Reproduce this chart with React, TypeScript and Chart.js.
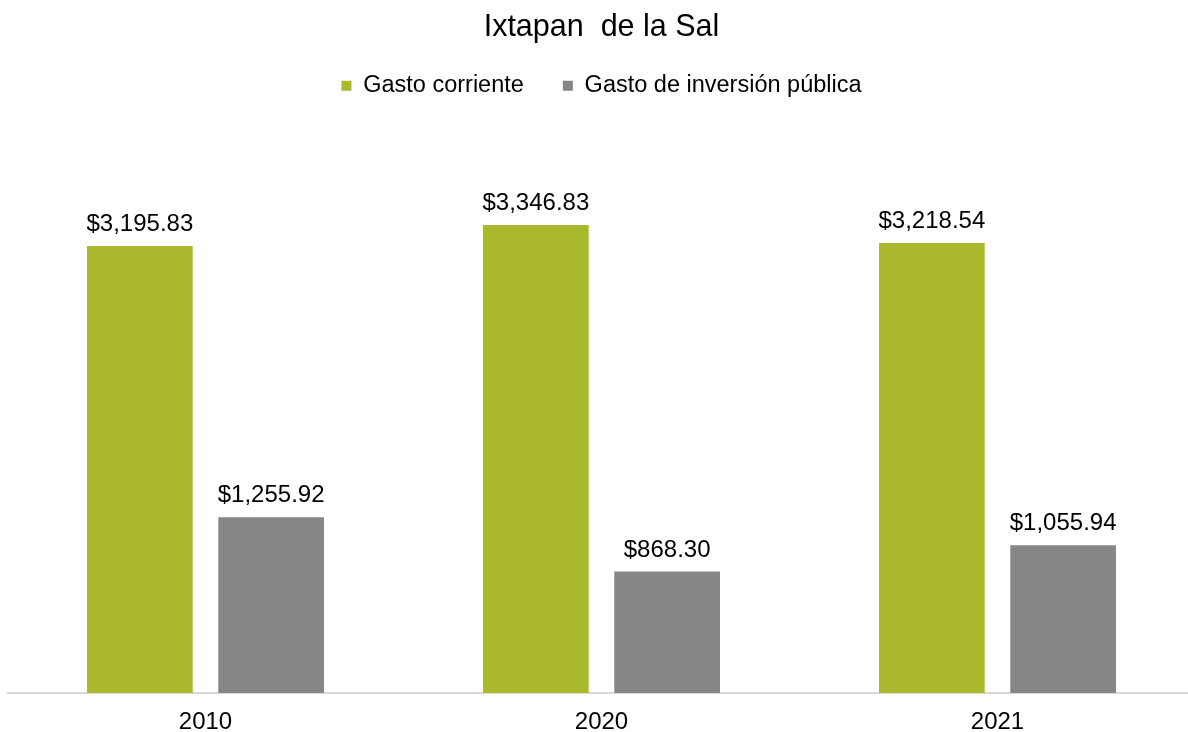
import React, { useEffect, useRef } from "react";
import { Chart, registerables } from "chart.js";

Chart.register(...registerables);

const title = "Ixtapan  de la Sal";
const categories = ["2010", "2020", "2021"];
const seriesNames = ["Gasto corriente", "Gasto de inversión pública"];
const gastoCorriente = [3195.83, 3346.83, 3218.54];
const gastoInversion = [1255.92, 868.3, 1055.94];
const colors = ["#A9B92B", "#868686"];

const FONT = "'Liberation Sans', Arial, sans-serif";

const fmt = (v: number) =>
  "$" + v.toLocaleString("en-US", { minimumFractionDigits: 2, maximumFractionDigits: 2 });

const labelPlugin = {
  id: "barLabels",
  afterDatasetsDraw(chart: any) {
    const ctx = chart.ctx;
    ctx.save();
    ctx.font = `24px ${FONT}`;
    ctx.fillStyle = "#000";
    ctx.textAlign = "center";
    ctx.textBaseline = "alphabetic";
    chart.data.datasets.forEach((ds: any, i: number) => {
      const meta = chart.getDatasetMeta(i);
      meta.data.forEach((el: any, j: number) => {
        ctx.fillText(fmt(ds.data[j]), el.x, el.y - 15);
      });
    });
    ctx.restore();
  },
};

// Adds extra space between the legend and the plot area
const legendSpacer = {
  id: "legendSpacer",
  afterInit(chart: any) {
    const legend = chart.legend;
    if (!legend) return;
    const origFit = legend.fit;
    legend.fit = function () {
      origFit.call(this);
      this.height += 26;
    };
  },
};

export default function App() {
  const ref = useRef<HTMLCanvasElement>(null);
  useEffect(() => {
    document.body.style.margin = "0";
    const chart = new Chart(ref.current!, {
      type: "bar",
      data: {
        labels: categories,
        datasets: [
          { label: seriesNames[0], data: gastoCorriente, backgroundColor: colors[0] },
          { label: seriesNames[1], data: gastoInversion, backgroundColor: colors[1] },
        ],
      },
      options: {
        animation: false,
        responsive: true,
        maintainAspectRatio: false,
        datasets: { bar: { categoryPercentage: 0.663, barPercentage: 0.805 } },
        layout: { padding: { left: 7.5, right: 0.5, top: 0, bottom: -19 } },
        plugins: {
          tooltip: { enabled: false },
          title: {
            display: true,
            text: title,
            color: "#000",
            font: { family: FONT, size: 30.5, weight: "normal" },
            padding: { top: 9, bottom: -10.5 },
          },
          legend: {
            display: true,
            position: "top",
            labels: {
              color: "#000",
              font: { family: FONT, size: 23.5 },
              boxWidth: 10,
              boxHeight: 10,
              padding: 39,
            },
          },
        },
        scales: {
          x: {
            grid: { display: false, drawTicks: false },
            border: { display: true, color: "#D9D9D9", width: 2 },
            ticks: {
              color: "#000",
              font: { family: FONT, size: 24, lineHeight: 1 },
              padding: 17,
            },
          },
          y: {
            display: false,
            min: 0,
            max: 4000,
          },
        },
      },
      plugins: [labelPlugin, legendSpacer],
    });
    return () => chart.destroy();
  }, []);
  return (
    <div
      style={{
        position: "fixed",
        left: 0,
        top: 0,
        width: 1188,
        height: 732,
        overflow: "hidden",
        background: "#fff",
      }}
    >
      <div style={{ position: "relative", width: 1196, height: 732 }}>
        <canvas ref={ref} />
      </div>
    </div>
  );
}
